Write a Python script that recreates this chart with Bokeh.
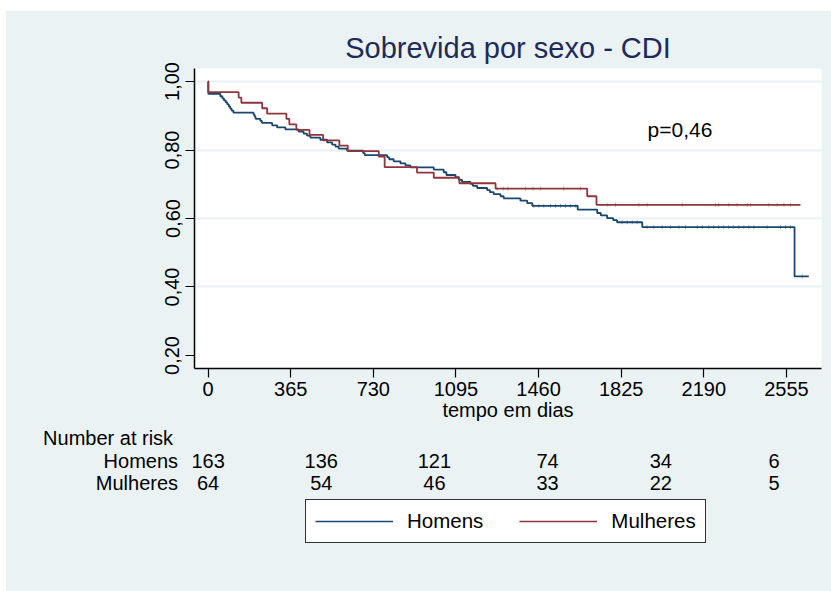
from math import pi
from bokeh.plotting import figure
from bokeh.layouts import column
from bokeh.models import (Range1d, FixedTicker, Label, Legend, LegendItem)
from bokeh.core.properties import value
from bokeh.embed import file_html
from bokeh.resources import INLINE

# ---------------- data ----------------
title_text = "Sobrevida por sexo - CDI"
x_label = "tempo em dias"
x_ticks = [0, 365, 730, 1095, 1460, 1825, 2190, 2555]
y_ticks = [0.2, 0.4, 0.6, 0.8, 1.0]
y_tick_labels = ["0,20", "0,40", "0,60", "0,80", "1,00"]
p_value_text = "p=0,46"

groups = ["Homens", "Mulheres"]

# Kaplan-Meier steps (time in days, survival after event)
homens_t = [1, 54, 63, 70, 78, 85, 92, 98, 104, 112, 201, 206, 210, 231, 238,
            283, 305, 342, 400, 422, 437, 452, 496, 526, 548, 563, 577, 614,
            685, 692, 791, 800, 820, 850, 872, 894, 997, 1041, 1053, 1093,
            1108, 1122, 1159, 1170, 1189, 1233, 1245, 1262, 1292, 1306, 1380,
            1410, 1432, 1633, 1719, 1735, 1763, 1790, 1807, 1918, 2591]
homens_s = [0.964, 0.957, 0.951, 0.945, 0.939, 0.933, 0.927, 0.921, 0.915, 0.909,
            0.903, 0.897, 0.891, 0.885, 0.879, 0.872, 0.866, 0.860, 0.854, 0.848,
            0.842, 0.836, 0.830, 0.822, 0.816, 0.810, 0.804, 0.798, 0.791, 0.785,
            0.779, 0.773, 0.767, 0.761, 0.755, 0.749, 0.743, 0.735, 0.727, 0.721,
            0.713, 0.707, 0.701, 0.695, 0.689, 0.683, 0.677, 0.671, 0.665, 0.659,
            0.652, 0.645, 0.637, 0.626, 0.616, 0.609, 0.601, 0.595, 0.589, 0.575,
            0.431]
homens_end = 2654
homens_cens_t = [1439, 1461, 1483, 1513, 1535, 1557, 1579, 1601, 1624,
                 1829, 1852, 1874, 1896,
                 1940, 1969, 2006, 2043, 2080, 2109, 2161, 2183, 2212, 2234,
                 2256, 2278, 2300, 2322, 2345, 2367, 2389, 2411, 2470, 2529,
                 2551, 2573, 2625]

mulheres_t = [1, 135, 147, 239, 261, 346, 359, 390, 448, 508, 580, 617, 754,
              780, 923, 997, 1110, 1270, 1675, 1716]
mulheres_s = [0.969, 0.953, 0.938, 0.922, 0.906, 0.891, 0.875, 0.859, 0.844,
              0.828, 0.813, 0.797, 0.781, 0.750, 0.734, 0.719, 0.703, 0.687,
              0.665, 0.640]
mulheres_end = 2617
mulheres_cens_t = [1277, 1304, 1324, 1402, 1436, 1469, 1571, 1645,
                   1763, 1800, 1903, 1940, 2095, 2242, 2256, 2300, 2337, 2382,
                   2396, 2477, 2514, 2544, 2573]

risk_title = "Number at risk"
risk_times = [0, 500, 1000, 1500, 2000, 2500]
risk_homens = [163, 136, 121, 74, 34, 6]
risk_mulheres = [64, 54, 46, 33, 22, 5]

# ---------------- style / layout ----------------
BG = "#eaf2f3"
NAVY = "#1a476f"
MAROON = "#90353b"
FONT = "Liberation Sans"
X0, X1 = -60, 2710
Y0, Y1 = 0.162, 1.038

LEFT_OFF, TOP_OFF = 6, 11          # white strip around the graph
FIG_W = 831 - LEFT_OFF
MB_L, MB_R, MB_T, MB_B = 188, 10, 57, 56
FRAME_H = 300
H1 = MB_T + FRAME_H + MB_B
H2 = 591 - TOP_OFF - H1

p = figure(width=FIG_W, height=H1, x_range=Range1d(X0, X1), y_range=Range1d(Y0, Y1),
           output_backend="svg", toolbar_location=None,
           min_border_left=MB_L, min_border_right=MB_R, min_border_top=MB_T,
           min_border_bottom=MB_B)
p.frame_align = False
p.background_fill_color = "white"
p.border_fill_color = BG
p.outline_line_color = None

p.title.text = title_text
p.title.align = "center"
p.title.text_font = FONT
p.title.text_font_size = "29px"
p.title.text_font_style = "normal"
p.title.text_color = "#1e2b58"

p.xaxis.ticker = FixedTicker(ticks=x_ticks)
p.yaxis.ticker = FixedTicker(ticks=y_ticks)
p.yaxis.major_label_overrides = {t: l for t, l in zip(y_ticks, y_tick_labels)}
p.xaxis.axis_label = x_label
for ax in (p.xaxis[0], p.yaxis[0]):
    ax.axis_line_color = "black"
    ax.axis_line_width = 1.5
    ax.major_tick_line_color = "black"
    ax.major_tick_line_width = 1.2
    ax.major_tick_out = 9
    ax.major_tick_in = 0
    ax.minor_tick_out = 0
    ax.minor_tick_in = 0
    ax.major_label_text_font = FONT
    ax.major_label_text_font_size = "20px"
    ax.major_label_text_color = "black"
    ax.axis_label_text_font = FONT
    ax.axis_label_text_font_size = "20px"
    ax.axis_label_text_font_style = "normal"
    ax.axis_label_text_color = "black"
p.yaxis.major_label_orientation = "vertical"
p.yaxis.major_label_standoff = 6
p.xaxis.major_label_standoff = 4
p.xaxis.axis_label_standoff = 0

p.xgrid.visible = False
p.ygrid.ticker = FixedTicker(ticks=[t for t in y_ticks if t > 0.3])
p.ygrid.grid_line_color = BG
p.ygrid.grid_line_width = 2


def km_xy(ts, ss, end):
    return [0] + ts + [end], [1.0] + ss + [ss[-1]]


def level_at(ts, ss, t):
    s = 1.0
    for ti, si in zip(ts, ss):
        if ti <= t:
            s = si
    return s


hx, hy = km_xy(homens_t, homens_s, homens_end)
mx, my = km_xy(mulheres_t, mulheres_s, mulheres_end)
p.step(hx, hy, mode="after", line_color=NAVY, line_width=1.8)
p.step(mx, my, mode="after", line_color=MAROON, line_width=1.8)

p.scatter(homens_cens_t, [level_at(homens_t, homens_s, t) for t in homens_cens_t],
          marker="dash", angle=pi / 2, size=4, line_color=NAVY, line_width=1, line_alpha=0.45)
p.scatter(mulheres_cens_t, [level_at(mulheres_t, mulheres_s, t) for t in mulheres_cens_t],
          marker="dash", angle=pi / 2, size=4, line_color=MAROON, line_width=1, line_alpha=0.45)

p.add_layout(Label(x=2085, y=0.86, text=p_value_text, text_font=FONT,
                   text_font_size="21px", text_align="center", text_baseline="middle",
                   text_color="black"))

# ---------------- risk table + legend (second figure) ----------------
ppd = (FIG_W - MB_L - MB_R) / (X1 - X0)          # pixels per day in main frame
x2_start = X0 - MB_L / ppd
x2_end = X1 + MB_R / ppd
y2_top = TOP_OFF + H1                              # page pixel rows
y2_bot = 591

p2 = figure(width=FIG_W, height=H2, x_range=Range1d(x2_start, x2_end),
            y_range=Range1d(y2_bot, y2_top), output_backend="svg",
            toolbar_location=None, min_border=0, min_border_left=0,
            min_border_right=0, min_border_top=0, min_border_bottom=0)
p2.frame_align = False
p2.axis.visible = False
p2.grid.visible = False
p2.outline_line_color = None
p2.background_fill_color = BG
p2.border_fill_color = BG

row_y = [437, 460, 482.5]
row_label_px = 30 / ppd        # right edge of row labels, 30px left of day 0
title_px = 165 / ppd

p2.text(x=[-title_px], y=[row_y[0]], text=[risk_title], text_font=value(FONT),
        text_font_size="20px", text_align="left", text_baseline="middle", text_color="black")
p2.text(x=[-row_label_px, -row_label_px], y=row_y[1:], text=groups, text_font=value(FONT),
        text_font_size="20px", text_align="right", text_baseline="middle", text_color="black")
p2.text(x=risk_times, y=[row_y[1]] * len(risk_times), text=[str(v) for v in risk_homens],
        text_font=value(FONT), text_font_size="20px", text_align="center",
        text_baseline="middle", text_color="black")
p2.text(x=risk_times, y=[row_y[2]] * len(risk_times), text=[str(v) for v in risk_mulheres],
        text_font=value(FONT), text_font_size="20px", text_align="center",
        text_baseline="middle", text_color="black")

nan = float("nan")
lh = p2.line(x=[nan], y=[nan], line_color=NAVY, line_width=1.5)
lm = p2.line(x=[nan], y=[nan], line_color=MAROON, line_width=1.5)
legend = Legend(items=[LegendItem(label=groups[0], renderers=[lh]),
                       LegendItem(label=groups[1], renderers=[lm])],
                orientation="horizontal", location=(305 - LEFT_OFF, 591 - 543))
legend.border_line_color = "#333333"
legend.border_line_alpha = 1
legend.border_line_width = 1.2
legend.background_fill_color = "white"
legend.background_fill_alpha = 1
legend.label_text_font = FONT
legend.label_text_font_size = "20.5px"
legend.label_text_color = "black"
legend.glyph_width = 78
legend.glyph_height = 22
legend.label_standoff = 14
legend.spacing = 36
legend.padding = 9
legend.margin = 0
p2.add_layout(legend)

layout = column(p, p2, spacing=0, margin=(TOP_OFF, 0, 0, LEFT_OFF),
                styles={"background-color": BG})
open("out.html", "w").write(file_html(layout, INLINE))
